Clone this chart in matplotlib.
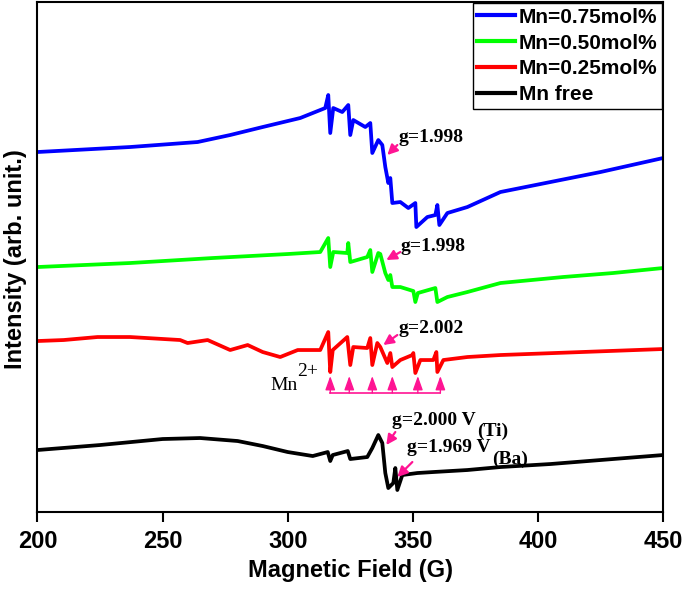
import matplotlib
matplotlib.use("Agg")
import matplotlib.pyplot as plt

# ---- data (field in G, intensity in arbitrary units) ----
blue_x = [200, 237, 264, 277, 290, 305, 315, 316.2, 317, 318.2, 321.8, 324.2, 325, 326.2, 331, 333,
          333.8, 336.2, 337.8, 339, 340.2, 341, 341.8, 345, 348.2, 351, 351.4, 355.8, 359, 359.8,
          360.6, 363.8, 371.8, 385, 405, 425, 450]
blue_y = [360, 365, 370, 377, 385, 394, 404, 417, 379, 404, 400, 407, 377, 392, 385, 389,
          359, 372, 367, 345, 329, 334, 309, 310, 304, 309, 285, 295, 297, 307,
          287, 299, 305, 320, 330, 340, 354]

green_x = [200, 237, 270, 300, 313, 316.2, 317, 318.2, 323.8, 324.2, 325, 331.8, 333, 333.8, 336.2,
           337, 339, 340.2, 341, 341.8, 345, 350.2, 351, 352, 359, 359.8, 363.8, 371.8, 385,
           410, 430, 450]
green_y = [245, 249, 254, 258, 260, 274, 245, 260, 259, 269, 250, 255, 262, 240, 259,
           258, 239, 232, 237, 225, 225, 221, 210, 219, 224, 210, 215, 220, 229,
           235, 239, 244]

red_x = [200, 210.5, 224, 237, 257, 260, 268, 277, 284, 290, 297, 304, 313, 316.2, 317, 318,
         323.8, 325, 326.2, 331.8, 333, 333.8, 335.8, 337, 339.8, 341, 341.8, 345, 349.8,
         350.2, 351, 353, 358.2, 359.4, 359.8, 362.2, 371.8, 385, 450]
red_y = [171, 172, 175, 175, 172, 169, 172, 162, 167, 160, 155, 162, 162, 180, 140, 162,
         175, 147, 165, 164, 174, 147, 169, 165, 149, 159, 145, 152, 157,
         159, 139, 152, 152, 160, 140, 152, 155, 157, 163]

black_x = [200, 225, 250, 265, 280, 290, 300, 310, 316, 317, 318, 324, 325, 331.8, 333.8, 336.2,
           337.8, 339, 340.2, 342.2, 343, 343.8, 345.8, 351.8, 358.2, 371.8, 385, 405, 425, 450]
black_y = [62, 67, 73, 74, 71, 66, 60, 56, 60, 51, 57, 61, 53, 55, 64, 77,
           69, 39, 24, 29, 44, 22, 37, 39, 40, 42, 45, 48, 52, 57]

series_labels = ["Mn=0.75mol%", "Mn=0.50mol%", "Mn=0.25mol%", "Mn free"]
series_colors = ["#0000FF", "#00FF00", "#FF0000", "#000000"]

mn_lines = [317, 324.6, 333.8, 341.8, 352, 361]
xticks = [200, 250, 300, 350, 400, 450]

pink = "#FF1493"

fig = plt.figure(figsize=(6.85, 5.94), dpi=100)
ax = fig.add_axes([0.0547, 0.138, 0.9133, 0.8586])

for xs, ys, lab, col in zip([blue_x, green_x, red_x, black_x],
                            [blue_y, green_y, red_y, black_y],
                            series_labels, series_colors):
    ax.plot(xs, ys, color=col, lw=2.7, label=lab, solid_joinstyle="round")

ax.set_xlim(200, 450)
ax.set_ylim(0, 510)
ax.set_xticks(xticks)
ax.set_xticklabels([str(t) for t in xticks], fontfamily="Liberation Sans",
                   fontweight="bold", fontsize=17)
ax.set_yticks([])
ax.tick_params(axis="x", direction="out", length=7, width=1.5, pad=6)
for s in ax.spines.values():
    s.set_linewidth(1.5)

ax.set_xlabel("Magnetic Field (G)", fontfamily="Liberation Sans",
              fontweight="bold", fontsize=17, labelpad=4)
ax.set_ylabel("Intensity (arb. unit.)", fontfamily="Liberation Sans",
              fontweight="bold", fontsize=17)
ax.yaxis.set_label_coords(-0.016, 0.495)

leg = ax.legend(loc="upper right", borderaxespad=0.05, fancybox=False,
                prop={"family": "Liberation Sans", "weight": "bold", "size": 15},
                handlelength=1.8, handletextpad=0.2, labelspacing=0.33,
                borderpad=0.22, framealpha=1)
leg.get_frame().set_edgecolor("black")
leg.get_frame().set_linewidth(1.0)
for h in leg.get_lines():
    h.set_linewidth(3.0)

serif = "Liberation Serif"
arrow_kw = dict(arrowstyle="-|>,head_length=0.5,head_width=0.25", color=pink, lw=1.6,
                mutation_scale=12, shrinkA=0, shrinkB=0)

# g-value annotations
def gnote(text, tx, ty, ax0, ay0, ax1, ay1):
    ax.text(tx, ty, text, fontfamily=serif, fontweight="bold", fontsize=14,
            ha="left", va="center")
    ax.annotate("", xy=(ax1, ay1), xytext=(ax0, ay0), arrowprops=arrow_kw)

gnote("g=1.998", 344.2, 375, 343.8, 367, 339.8, 357)
gnote("g=1.998", 345.0, 266, 345.0, 260, 339.4, 252)
gnote("g=2.002", 344.2, 184, 343.8, 177, 338.2, 167)
gnote("g=2.000 V", 341.8, 92, 343.0, 80, 339.4, 67)
gnote("g=1.969 V", 347.8, 65, 349.8, 50, 343.8, 35)
ax.text(375.8, 81, "(Ti)", fontfamily=serif, fontweight="bold", fontsize=14,
        ha="left", va="center")
ax.text(381.8, 53, "(Ba)", fontfamily=serif, fontweight="bold", fontsize=14,
        ha="left", va="center")

# Mn2+ hyperfine markers
ax.text(293, 127, "Mn", fontfamily=serif, fontsize=14, ha="left", va="center")
ax.text(303.8, 141, "2+", fontfamily=serif, fontsize=14, ha="left", va="center")
ax.plot([mn_lines[0], mn_lines[-1]], [119, 119], color=pink, lw=1.2)
mk_kw = dict(arrowstyle="-|>,head_length=0.7,head_width=0.25", color=pink, lw=1.0,
             mutation_scale=12, shrinkA=0, shrinkB=0)
for g in mn_lines:
    ax.annotate("", xy=(g, 136), xytext=(g, 119), arrowprops=mk_kw)

fig.savefig("out.png", dpi=100)
